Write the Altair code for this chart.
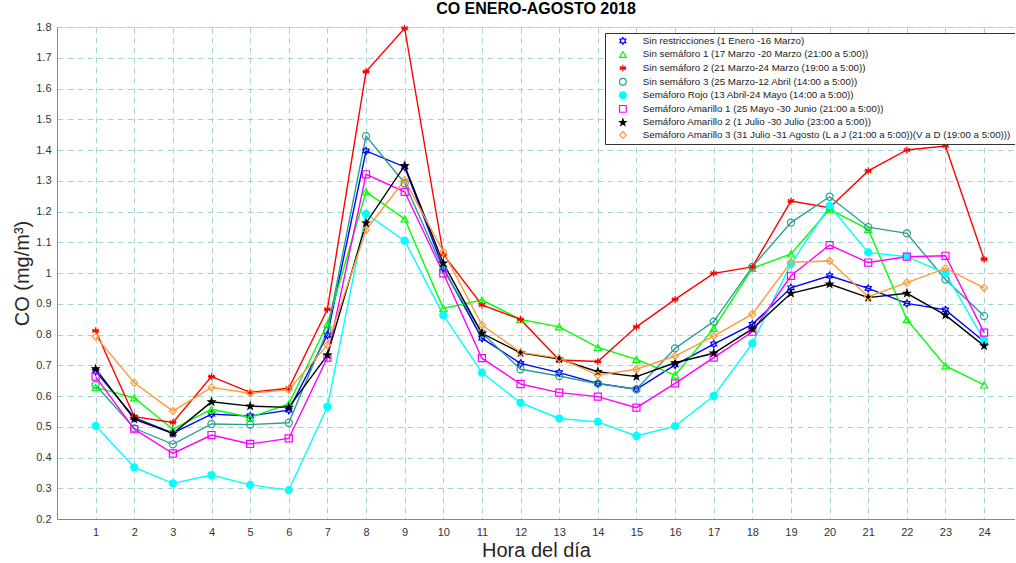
import altair as alt
import pandas as pd

hours = list(range(1, 25))

series_names = [
    "Sin restricciones (1 Enero -16 Marzo)",
    "Sin semáforo 1 (17 Marzo -20 Marzo (21:00 a 5:00))",
    "Sin semáforo 2 (21 Marzo-24 Marzo (19:00 a 5:00))",
    "Sin semáforo 3 (25 Marzo-12 Abril (14:00 a 5:00))",
    "Semáforo Rojo (13 Abril-24 Mayo (14:00 a 5:00))",
    "Semáforo Amarillo 1 (25 Mayo -30 Junio (21:00 a 5:00))",
    "Semáforo Amarillo 2 (1 Julio -30 Julio (23:00 a 5:00))",
    "Semáforo Amarillo 3 (31 Julio -31 Agosto (L a J (21:00 a 5:00))(V a D (19:00 a 5:00)))",
]

sin_restricciones = [0.680, 0.530, 0.479, 0.541, 0.535, 0.554, 0.798, 1.397, 1.345, 1.016, 0.788, 0.706,
                     0.676, 0.641, 0.622, 0.701, 0.769, 0.833, 0.952, 0.991, 0.950, 0.901, 0.880, 0.777]
sin_semaforo_1 = [0.628, 0.594, 0.492, 0.557, 0.531, 0.574, 0.834, 1.264, 1.176, 0.885, 0.912, 0.849,
                  0.825, 0.758, 0.719, 0.668, 0.820, 1.015, 1.062, 1.207, 1.142, 0.849, 0.698, 0.636]
sin_semaforo_2 = [0.812, 0.533, 0.514, 0.663, 0.612, 0.625, 0.882, 1.655, 1.796, 1.060, 0.896, 0.849,
                  0.717, 0.712, 0.825, 0.914, 0.999, 1.020, 1.234, 1.212, 1.332, 1.400, 1.413, 1.045]
sin_semaforo_3 = [0.636, 0.495, 0.443, 0.509, 0.507, 0.513, 0.812, 1.445, 1.292, 1.010, 0.805, 0.687,
                  0.665, 0.640, 0.622, 0.755, 0.842, 1.020, 1.164, 1.248, 1.149, 1.129, 0.979, 0.860]
semaforo_rojo = [0.503, 0.368, 0.316, 0.343, 0.311, 0.294, 0.565, 1.192, 1.105, 0.863, 0.676, 0.578,
                 0.527, 0.516, 0.470, 0.502, 0.600, 0.771, 1.030, 1.218, 1.067, 1.053, 0.999, 0.782]
semaforo_amarillo_1 = [0.663, 0.492, 0.413, 0.473, 0.444, 0.462, 0.725, 1.321, 1.264, 0.999, 0.723, 0.639,
                       0.611, 0.598, 0.562, 0.641, 0.725, 0.809, 0.991, 1.091, 1.034, 1.053, 1.056, 0.806]
semaforo_amarillo_2 = [0.688, 0.525, 0.478, 0.581, 0.567, 0.563, 0.733, 1.162, 1.349, 1.032, 0.804, 0.740,
                       0.720, 0.679, 0.663, 0.708, 0.739, 0.818, 0.934, 0.964, 0.920, 0.934, 0.863, 0.763]
semaforo_amarillo_3 = [0.793, 0.643, 0.551, 0.628, 0.609, 0.620, 0.766, 1.140, 1.302, 1.069, 0.831, 0.742,
                       0.723, 0.668, 0.687, 0.730, 0.795, 0.866, 1.035, 1.039, 0.923, 0.969, 1.015, 0.952]

all_values = [sin_restricciones, sin_semaforo_1, sin_semaforo_2, sin_semaforo_3,
              semaforo_rojo, semaforo_amarillo_1, semaforo_amarillo_2, semaforo_amarillo_3]

colors = ["#0000ff", "#00ff00", "#ff0000", "#2a9d96", "#00ffff", "#ff00ff", "#000000", "#ff9933"]
fills = ["transparent", "transparent", "#ff0000", "transparent", "#00ffff", "transparent", "#000000", "transparent"]

hexagram = "M0,-1L0.289,-0.5L0.866,-0.5L0.577,0L0.866,0.5L0.289,0.5L0,1L-0.289,0.5L-0.866,0.5L-0.577,0L-0.866,-0.5L-0.289,-0.5Z"
asterisk = "M0,-1L0,1M-0.866,-0.5L0.866,0.5M-0.866,0.5L0.866,-0.5M-1,0L1,0"
pentagram = "M0,-1L0.235,-0.324L0.951,-0.309L0.38,0.124L0.588,0.809L0,0.4L-0.588,0.809L-0.38,0.124L-0.951,-0.309L-0.235,-0.324Z"
shapes = [hexagram, "triangle-up", asterisk, "circle", "circle", "square", pentagram, "diamond"]

y_ticks = [round(0.2 + 0.1 * i, 1) for i in range(17)]

rows = []
for idx, (name, vals) in enumerate(zip(series_names, all_values)):
    for h, v in zip(hours, vals):
        rows.append({"serie": name, "hora": h, "co": v, "orden": idx})
df = pd.DataFrame(rows)

font = "Liberation Sans"
grid_color = "#a6d4d4"

x_enc = alt.X("hora:Q",
              scale=alt.Scale(domain=[0, 24.8], nice=False, zero=False),
              axis=alt.Axis(values=hours, title="Hora del día", grid=True, ticks=False,
                            gridColor=grid_color, gridDash=[6, 4], gridWidth=1,
                            labelFontSize=11, labelColor="#333333", labelPadding=7, labelFont=font,
                            titleFontSize=20, titleFontWeight="normal", titleColor="#262626",
                            titleFont=font, titlePadding=3, domainColor="#888888"))
y_enc = alt.Y("co:Q",
              scale=alt.Scale(domain=[0.2, 1.8], nice=False, zero=False),
              axis=alt.Axis(values=y_ticks, format="~g", title="CO (mg/m³)", grid=True, ticks=False,
                            gridColor=grid_color, gridDash=[6, 4], gridWidth=1,
                            labelFontSize=11, labelColor="#333333", labelPadding=6, labelFont=font,
                            titleFontSize=20, titleFontWeight="normal", titleColor="#262626",
                            titleFont=font, titlePadding=3, domainColor="#888888"))

legend = alt.Legend(title=None, orient="none", legendX=548, legendY=6,
                    labelFontSize=9.75, labelFont=font, labelColor="#222222",
                    labelLimit=500, symbolSize=45, symbolStrokeWidth=1.2,
                    rowPadding=1.6, padding=3, fillColor="white",
                    strokeColor="#333333", symbolOffset=10, labelOffset=15)

color_scale = alt.Scale(domain=series_names, range=colors)

lines = alt.Chart(df).mark_line(strokeWidth=1.4).encode(
    x=x_enc, y=y_enc,
    color=alt.Color("serie:N", scale=color_scale, legend=legend),
    detail="serie:N",
    order="hora:Q",
)

points = alt.Chart(df).mark_point(filled=False, strokeWidth=1.2, opacity=1, size=50).encode(
    x=x_enc, y=y_enc,
    color=alt.Color("serie:N", scale=color_scale, legend=legend),
    fill=alt.Fill("serie:N", scale=alt.Scale(domain=series_names, range=fills), legend=legend),
    shape=alt.Shape("serie:N", scale=alt.Scale(domain=series_names, range=shapes), legend=legend),
)

chart = alt.layer(lines, points).properties(
    width=958,
    height=492,
    title=alt.Title("CO ENERO-AGOSTO 2018", fontSize=16, fontWeight="bold", font=font,
                    color="#000000", anchor="middle", offset=4),
    autosize=alt.AutoSizeParams(type="none"),
    padding={"left": 57, "top": 27, "right": 0, "bottom": 44},
).configure_view(
    stroke="#888888", strokeWidth=1,
).configure(background="white")

chart.save("out.html", embed_options={"renderer": "svg", "actions": False})
